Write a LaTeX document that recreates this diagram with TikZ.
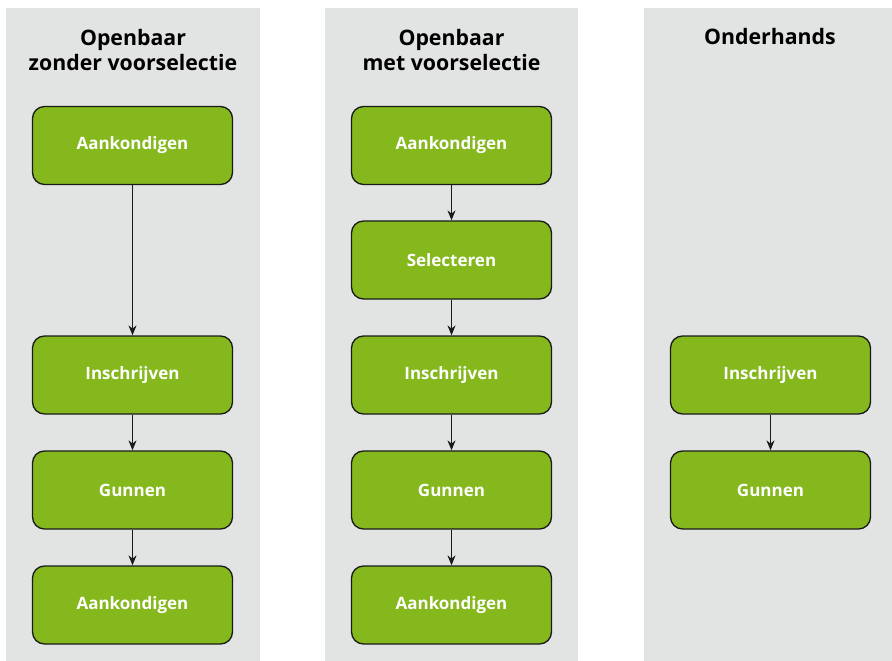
\documentclass[tikz,border=0pt]{standalone}
\usepackage{fontspec}
\setmainfont{Open Sans}
\usetikzlibrary{arrows.meta}
\definecolor{colbg}{HTML}{E2E4E3}
\definecolor{boxgreen}{HTML}{84B81C}
\definecolor{boxline}{HTML}{1A1A1A}
\tikzset{
  column/.style={fill=colbg, draw=none},
  stepbox/.style={rectangle, rounded corners=12pt, fill=boxgreen, draw=boxline, line width=1.3pt,
    minimum width=200pt, minimum height=78pt, inner sep=0pt,
    text=white, font=\fontsize{17}{20}\selectfont\bfseries},
  title/.style={align=center, text=black, font=\fontsize{21.3}{25}\selectfont\bfseries, inner sep=0pt},
  flow/.style={-{Stealth[length=10pt,width=8pt]}, line width=1.2pt, draw=boxline}
}
\begin{document}
\begin{tikzpicture}[x=1pt,y=-1pt]
\useasboundingbox (0,0) rectangle (892,661);
\fill[white] (0,0) rectangle (892,661);
\path[column] (6,8) rectangle (260,661);
\path[column] (325,8) rectangle (578,661);
\path[column] (644,8) rectangle (892,661);

\node[title] (t1) at (133,50) {Openbaar\\zonder voorselectie};
\node[title] (t2) at (451.5,50) {Openbaar\\met voorselectie};
\node[title] (t3) at (770,37) {Onderhands};

\node[stepbox] (a1) at (132.5,145.5) {Aankondigen};
\node[stepbox] (a2) at (132.5,375) {Inschrijven};
\node[stepbox] (a3) at (132.5,490) {Gunnen};
\node[stepbox] (a4) at (132.5,605) {Aankondigen};

\node[stepbox] (b1) at (451.5,145.5) {Aankondigen};
\node[stepbox] (b2) at (451.5,260) {Selecteren};
\node[stepbox] (b3) at (451.5,375) {Inschrijven};
\node[stepbox] (b4) at (451.5,490) {Gunnen};
\node[stepbox] (b5) at (451.5,605) {Aankondigen};

\node[stepbox] (c1) at (770.5,375) {Inschrijven};
\node[stepbox] (c2) at (770.5,490) {Gunnen};

\draw[flow] (a1) -- (a2);
\draw[flow] (a2) -- (a3);
\draw[flow] (a3) -- (a4);
\draw[flow] (b1) -- (b2);
\draw[flow] (b2) -- (b3);
\draw[flow] (b3) -- (b4);
\draw[flow] (b4) -- (b5);
\draw[flow] (c1) -- (c2);
\end{tikzpicture}
\end{document}
